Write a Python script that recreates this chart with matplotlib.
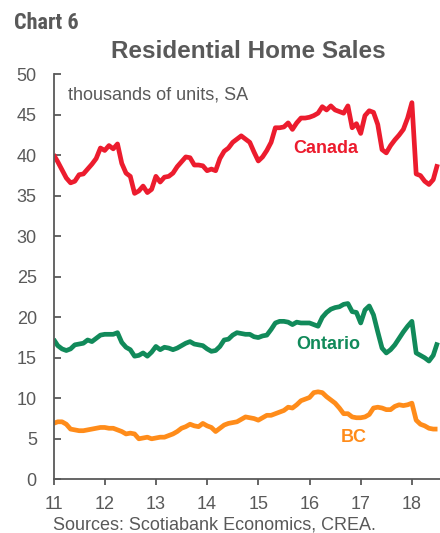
import matplotlib
matplotlib.use("Agg")
import matplotlib.pyplot as plt
from matplotlib import font_manager
import numpy as np

# ---- data (thousands of units, SA), monthly from Jan 2011 ----
canada = [40.1, 39.2, 38.2, 37.2, 36.6, 36.8, 37.6, 37.7, 38.3, 38.9, 39.6, 40.9,
          40.6, 41.2, 40.8, 41.4, 39.0, 37.8, 37.4, 35.3, 35.6, 36.2, 35.4, 35.8,
          37.4, 36.7, 37.3, 37.4, 37.8, 38.6, 39.2, 39.8, 39.7, 38.8, 38.8, 38.7,
          38.1, 38.3, 38.1, 39.6, 40.5, 40.9, 41.6, 42.0, 42.4, 42.0, 41.6, 40.4,
          39.3, 39.8, 40.6, 41.6, 43.4, 43.4, 43.5, 44.0, 43.2, 44.0, 44.6, 44.6,
          44.7, 44.9, 45.2, 46.0, 45.6, 46.1, 45.6, 45.4, 45.2, 46.1, 43.4, 43.9,
          42.7, 44.9, 45.5, 45.3, 43.8, 40.7, 40.3, 41.2, 41.9, 42.5, 43.2, 44.6,
          46.5, 37.7, 37.5, 36.8, 36.4, 37.0, 38.9]
ontario = [17.3, 16.5, 16.1, 15.9, 16.1, 16.6, 16.7, 16.8, 17.2, 17.0, 17.4, 17.8,
           17.9, 17.9, 17.9, 18.1, 16.9, 16.3, 16.0, 15.2, 15.3, 15.6, 15.2, 15.7,
           16.4, 16.0, 16.3, 16.2, 16.0, 16.2, 16.5, 16.8, 17.0, 16.7, 16.6, 16.5,
           16.1, 15.8, 15.9, 16.4, 17.2, 17.3, 17.8, 18.1, 18.0, 17.9, 17.9, 17.6,
           17.5, 17.7, 17.8, 18.5, 19.3, 19.5, 19.5, 19.4, 19.1, 19.4, 19.3, 19.3,
           19.3, 19.1, 18.9, 20.0, 20.6, 21.0, 21.2, 21.3, 21.6, 21.7, 20.7, 20.6,
           19.3, 20.9, 21.4, 20.3, 18.2, 16.2, 15.6, 16.0, 16.6, 17.4, 18.2, 18.9,
           19.5, 15.6, 15.3, 15.0, 14.6, 15.3, 16.9]
bc = [6.9, 7.1, 7.1, 6.8, 6.2, 6.1, 6.0, 6.0, 6.1, 6.2, 6.3, 6.4,
      6.4, 6.3, 6.3, 6.1, 5.9, 5.6, 5.7, 5.6, 5.0, 5.1, 5.2, 5.0,
      5.1, 5.2, 5.2, 5.4, 5.6, 5.9, 6.3, 6.5, 6.8, 6.6, 6.5, 6.9,
      6.6, 6.4, 5.9, 6.3, 6.7, 6.9, 7.0, 7.1, 7.4, 7.7, 7.6, 7.5,
      7.3, 7.6, 7.9, 7.9, 8.1, 8.3, 8.5, 8.9, 8.8, 9.2, 9.7, 9.9,
      10.1, 10.7, 10.8, 10.7, 10.2, 9.8, 9.4, 8.8, 8.1, 8.1, 7.7, 7.6,
      7.6, 7.7, 8.0, 8.8, 8.9, 8.8, 8.6, 8.6, 9.0, 9.2, 9.1, 9.2,
      9.4, 7.3, 6.8, 6.6, 6.3, 6.2, 6.2]
start_year = 11
xtick_labels = ["11", "12", "13", "14", "15", "16", "17", "18"]
yticks = [0, 5, 10, 15, 20, 25, 30, 35, 40, 45, 50]

series_names = ["Canada", "Ontario", "BC"]
colors = ["#EC1C2E", "#118A5A", "#FF8C1A"]
GREY = "#595959"

# fonts
avail = {f.name for f in font_manager.fontManager.ttflist}
base = "Liberation Sans" if "Liberation Sans" in avail else "DejaVu Sans"
narrow = None
for cand in ["Liberation Sans Narrow", "Roboto Condensed", "Open Sans Condensed"]:
    if cand in avail:
        narrow = cand
        break
plt.rcParams["font.family"] = [base, "DejaVu Sans"]

W, H = 440, 533
fig = plt.figure(figsize=(W / 100, H / 100), dpi=100)

def fx(px):
    return px / W

def fy(py):
    return 1 - py / H

ax_left, ax_right, ax_top, ax_bot = 53.5, 440, 74.3, 479.3
ax = fig.add_axes([fx(ax_left), fy(ax_bot), fx(ax_right - ax_left), (ax_bot - ax_top) / H])

xs = [start_year + i / 12 for i in range(len(canada))]
for vals, c in zip([canada, ontario, bc], colors):
    ax.plot(xs, vals, color=c, lw=3.4, solid_joinstyle="round", solid_capstyle="butt", clip_on=True)

ax.set_xlim(11, 11 + (ax_right - ax_left) / 51.2)
ax.set_ylim(0, 50)
ax.set_yticks(yticks)
ax.set_xticks([int(t) for t in xtick_labels])
ax.set_xticklabels(xtick_labels)

for s in ["top", "right"]:
    ax.spines[s].set_visible(False)
for s in ["left", "bottom"]:
    ax.spines[s].set_color(GREY)
    ax.spines[s].set_linewidth(1.3)

ax.tick_params(axis="y", direction="in", length=5, width=1.3, color=GREY,
               labelsize=13, labelcolor=GREY, pad=12)
ax.tick_params(axis="x", direction="out", length=4, width=1.3, color=GREY,
               labelsize=13, labelcolor=GREY, pad=8)

# series labels
ax.text(16.32, 40.9, "Canada", color=colors[0], fontsize=13, fontweight="bold",
        ha="center", va="center")
ax.text(16.36, 16.7, "Ontario", color=colors[1], fontsize=13, fontweight="bold",
        ha="center", va="center")
ax.text(16.86, 5.2, "BC", color=colors[2], fontsize=13, fontweight="bold",
        ha="center", va="center")

ax.text(11.28, 47.4, "thousands of units, SA", color=GREY, fontsize=13,
        ha="left", va="center")

if narrow:
    fig.text(fx(14), fy(23), "Chart 6", family=[narrow, "DejaVu Sans"], fontsize=16,
             fontweight="bold", color=GREY, ha="left", va="center")
else:
    fig.text(fx(14), fy(23), "Chart 6", fontsize=14.5, fontweight="bold",
             color=GREY, ha="left", va="center")
fig.text(fx(248), fy(52), "Residential Home Sales", fontsize=17.5, fontweight="bold",
         color=GREY, ha="center", va="center")
fig.text(fx(53), fy(517), "Sources: Scotiabank Economics, CREA.", fontsize=13,
         color=GREY, ha="left", va="top")

fig.savefig("out.png", dpi=100)
